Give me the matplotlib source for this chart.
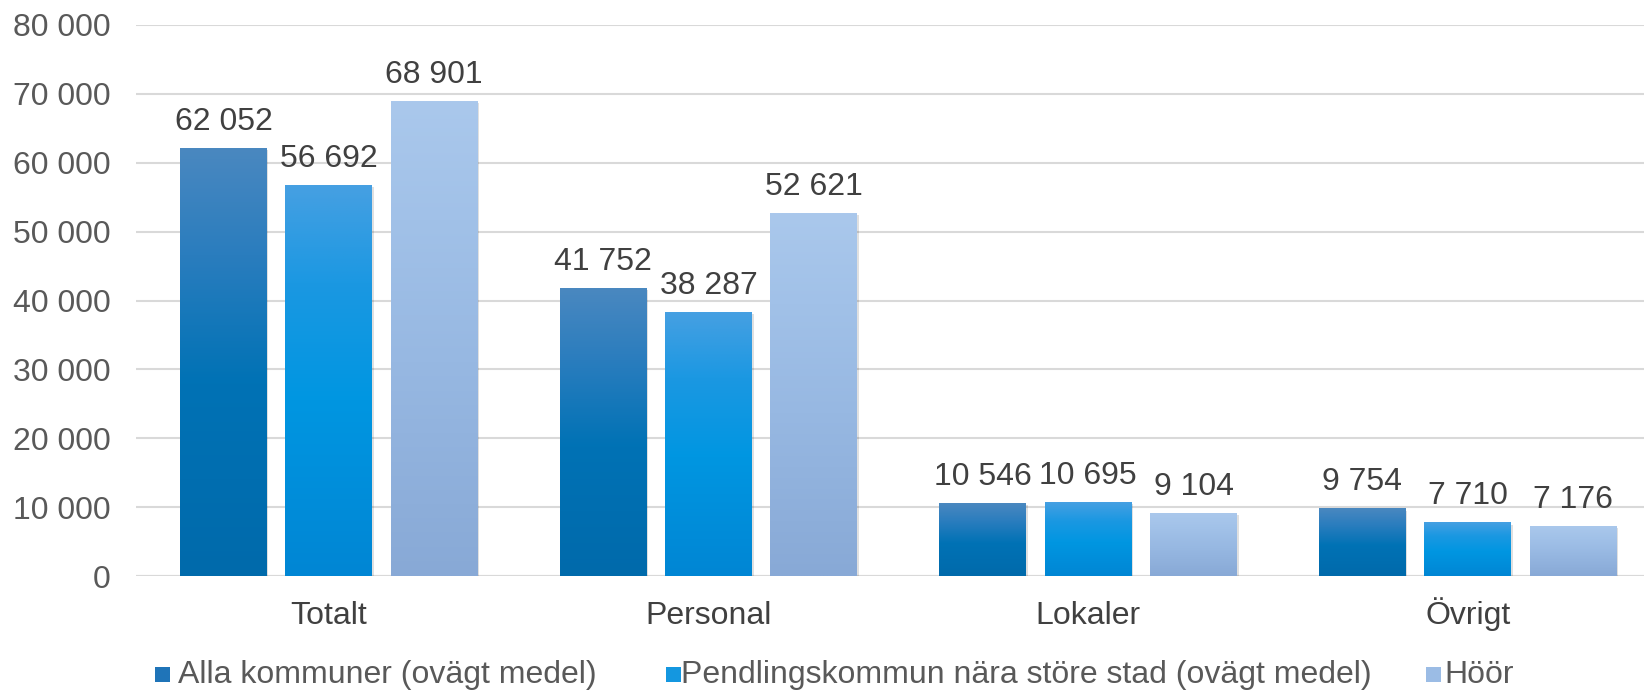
import matplotlib
matplotlib.use("Agg")
import matplotlib.pyplot as plt
import numpy as np
from matplotlib.colors import LinearSegmentedColormap
from matplotlib.patches import Rectangle
from matplotlib.transforms import blended_transform_factory

categories = ["Totalt", "Personal", "Lokaler", "Övrigt"]
series_names = ["Alla kommuner (ovägt medel)",
                "Pendlingskommun nära störe stad (ovägt medel)",
                "Höör"]
alla = [62052, 41752, 10546, 9754]
pendling = [56692, 38287, 10695, 7710]
hoor = [68901, 52621, 9104, 7176]
yticks = [0, 10000, 20000, 30000, 40000, 50000, 60000, 70000, 80000]

series = [alla, pendling, hoor]
gradients = [
    ["#006AAB", "#0072B5", "#2A7DBE", "#4A88C0"],
    ["#0086D4", "#0096E1", "#1B98E2", "#46A0E2"],
    ["#88A9D6", "#97B8E2", "#A1C1E8", "#AAC8EC"],
]
legend_colors = ["#1F74B8", "#1497E0", "#9BBCE5"]

plt.rcParams['font.family'] = ['Liberation Sans', 'DejaVu Sans']
FS = 23

fig = plt.figure(figsize=(16.44, 6.91), dpi=100)
ax = fig.add_axes([136/1644, 1-576/691, 1-136/1644, (576-25)/691])
ax.set_xlim(-0.508, 3.464)
ax.set_ylim(0, 80000)
ax.set_autoscale_on(False)

for s in ax.spines.values():
    s.set_visible(False)
ax.set_yticks(yticks)
ax.set_yticklabels([f"{v:,}".replace(",", " ") for v in yticks])
ax.yaxis.grid(True, color="#D9D9D9", linewidth=1.5)
ax.set_axisbelow(True)
ax.tick_params(axis='y', length=0, pad=18.5, labelsize=FS, labelcolor="#595959")
ax.set_xticks([])
ax.axhline(0, color="#D9D9D9", linewidth=1.5, zorder=1)

trans = blended_transform_factory(ax.transData, ax.transAxes)
for j, c in enumerate(categories):
    ax.text(j, -48/551, c, transform=trans, ha='center', va='baseline',
            fontsize=FS, color="#404040")

width = 0.229
step = 0.2776
grad = np.linspace(0, 1, 256).reshape(-1, 1)
for i, (vals, cols) in enumerate(zip(series, gradients)):
    cmap = LinearSegmentedColormap.from_list(f"g{i}", list(zip([0, 0.45, 0.75, 1.0], cols)))
    for j, v in enumerate(vals):
        x0 = j + (i - 1) * step - width / 2
        sh = Rectangle((x0 + 0.004, 0), width, v - 250, facecolor="#000000", alpha=0.12,
                       edgecolor="none", zorder=2)
        ax.add_patch(sh)
        ax.imshow(grad, cmap=cmap, aspect='auto', extent=[x0, x0 + width, 0, v],
                  origin='lower', zorder=3, interpolation='bilinear')
        ax.text(x0 + width / 2, v + 1700, f"{v:,}".replace(",", " "), ha='center', va='bottom',
                fontsize=FS, color="#404040", zorder=4)

# legend (manual)
leg_items = [(155, 178), (666, 681), (1426, 1444)]
for (sx, tx), name, c in zip(leg_items, series_names, legend_colors):
    fig.patches.append(Rectangle((sx/1644, 1-682/691), 15/1644, 15/691, transform=fig.transFigure,
                                 facecolor=c, edgecolor="none"))
    fig.text(tx/1644, 1-675/691, name, ha='left', va='center', fontsize=FS, color="#595959")

fig.savefig("out.png", dpi=100)
